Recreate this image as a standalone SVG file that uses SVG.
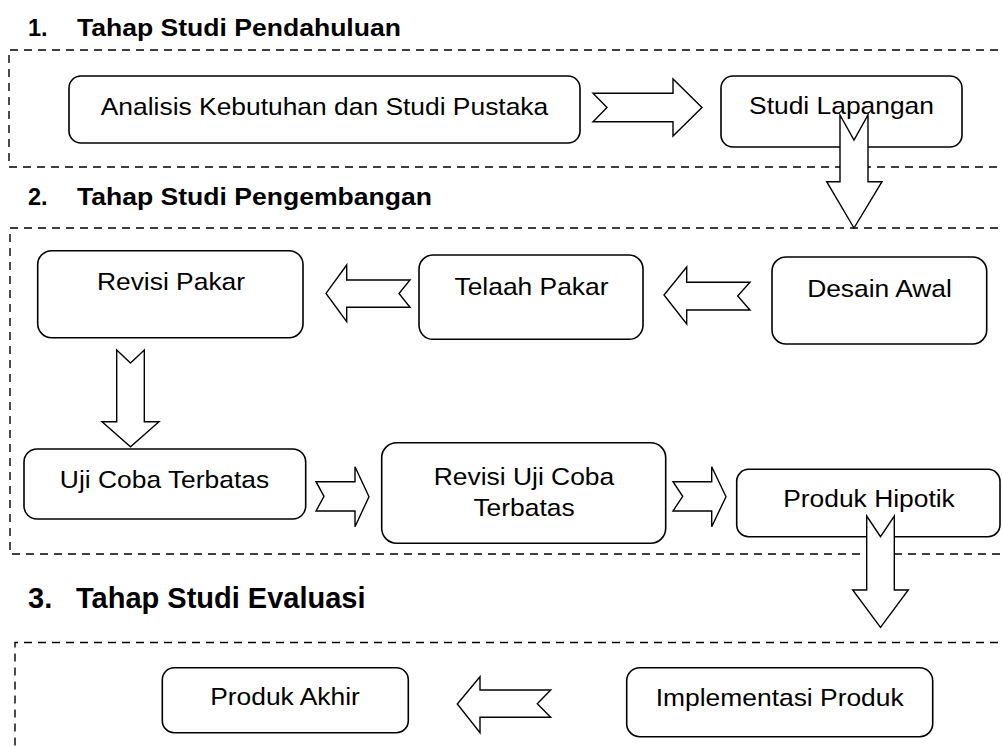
<svg xmlns="http://www.w3.org/2000/svg" width="1003" height="746" viewBox="0 0 1003 746">
<style>
.frame{fill:none;stroke:#000;stroke-width:1.4;stroke-dasharray:8 6}
.box{fill:#fff;stroke:#000;stroke-width:1.6}
.arr{fill:#fff;stroke:#000;stroke-width:1.4;stroke-linejoin:miter}
.lbl{font-family:"Liberation Sans",Arial,sans-serif;font-size:24px;fill:#000;text-anchor:middle}
.ttl{font-family:"Liberation Sans",Arial,sans-serif;font-size:23.5px;font-weight:bold;fill:#000}
.ttl3{font-family:"Liberation Sans",Arial,sans-serif;font-size:29px;font-weight:bold;fill:#000}
</style>
<rect width="1003" height="746" fill="#fff"/>
<g id="stage1">
<path class="frame" d="M1012,50 H9 V167 H1012"/>
<text class="ttl" x="28" y="36">1.</text>
<text class="ttl" transform="translate(77,36) scale(1.13,1)">Tahap Studi Pendahuluan</text>
</g>
<g id="stage2">
<path class="frame" d="M1012,228 H10 V554 H1012"/>
<text class="ttl" x="28" y="205">2.</text>
<text class="ttl" transform="translate(77,205) scale(1.13,1)">Tahap Studi Pengembangan</text>
</g>
<g id="stage3">
<path class="frame" d="M1012,642.5 H15 V760"/>
<text class="ttl3" x="28" y="608">3.</text>
<text class="ttl3" x="76" y="608">Tahap Studi Evaluasi</text>
</g>
<g id="n-analisis">
<rect class="box" x="69" y="76" width="511" height="67" rx="12"/>
<text class="lbl" transform="translate(324.5,115) scale(1.1,1)">Analisis Kebutuhan dan Studi Pustaka</text>
</g>
<g id="n-lapangan">
<rect class="box" x="721" y="76" width="241" height="71" rx="12"/>
<text class="lbl" transform="translate(841.5,114) scale(1.1,1)">Studi Lapangan</text>
</g>
<g id="n-revisipakar">
<rect class="box" x="37.7" y="250.7" width="265.3" height="87" rx="14"/>
<text class="lbl" transform="translate(171,290) scale(1.1,1)">Revisi Pakar</text>
</g>
<g id="n-telaah">
<rect class="box" x="419" y="255" width="224" height="84.3" rx="14"/>
<text class="lbl" transform="translate(531.5,295) scale(1.1,1)">Telaah Pakar</text>
</g>
<g id="n-desain">
<rect class="box" x="772" y="257" width="214.7" height="87" rx="14"/>
<text class="lbl" transform="translate(879.5,296.7) scale(1.1,1)">Desain Awal</text>
</g>
<g id="n-ujicoba">
<rect class="box" x="24" y="449" width="281.7" height="70" rx="13"/>
<text class="lbl" transform="translate(164.5,488) scale(1.1,1)">Uji Coba Terbatas</text>
</g>
<g id="n-revisiuji">
<rect class="box" x="381.7" y="442.7" width="284" height="100.6" rx="15"/>
<text class="lbl" transform="translate(524,485) scale(1.1,1)">Revisi Uji Coba</text>
<text class="lbl" transform="translate(524,516) scale(1.1,1)">Terbatas</text>
</g>
<g id="n-hipotik">
<rect class="box" x="736.7" y="469.3" width="263.3" height="67.4" rx="12"/>
<text class="lbl" transform="translate(869,507.3) scale(1.1,1)">Produk Hipotik</text>
</g>
<g id="n-akhir">
<rect class="box" x="162.3" y="667.7" width="246" height="65" rx="12"/>
<text class="lbl" transform="translate(285,705) scale(1.1,1)">Produk Akhir</text>
</g>
<g id="n-implementasi">
<rect class="box" x="626.7" y="667.7" width="306" height="69" rx="13"/>
<text class="lbl" transform="translate(779.7,706) scale(1.1,1)">Implementasi Produk</text>
</g>
<g id="connectors">
<polygon class="arr" points="593,93.3 673,93.3 673,79 702,107.5 673,136 673,121.7 593,121.7 607,107.5"/>
<polygon class="arr" points="840,115 854,140 868,115 868,181.7 882,181.7 854,228 826.7,181.7 840,181.7"/>
<polygon class="arr" points="410,280 346.7,280 346.7,265 326,293.4 346.7,321.7 346.7,307.3 410,307.3 399,293.5"/>
<polygon class="arr" points="750,282.3 686.7,282.3 686.7,267 664,295 686.7,324 686.7,310 750,310 737.7,296"/>
<polygon class="arr" points="116.7,350 130.5,363 144.3,350 144.3,421.7 159,421.7 130.5,446.7 102,421.7 116.7,421.7"/>
<polygon class="arr" points="316,481.7 355,481.7 355,466.7 369,496.7 355,526.7 355,511 316,511 324,496.3"/>
<polygon class="arr" points="673,481.7 711.7,481.7 711.7,466.7 726,496.7 711.7,526.7 711.7,511 673,511 682.7,496.3"/>
<polygon class="arr" points="866.7,516 880.5,536.7 894.3,516 894.3,590 908.3,590 880.5,627.3 852.7,590 866.7,590"/>
<polygon class="arr" points="550.7,690 480,690 480,676.7 457.3,704 480,732.7 480,717.3 550.7,717.3 537.3,703.7"/>
</g>
</svg>
